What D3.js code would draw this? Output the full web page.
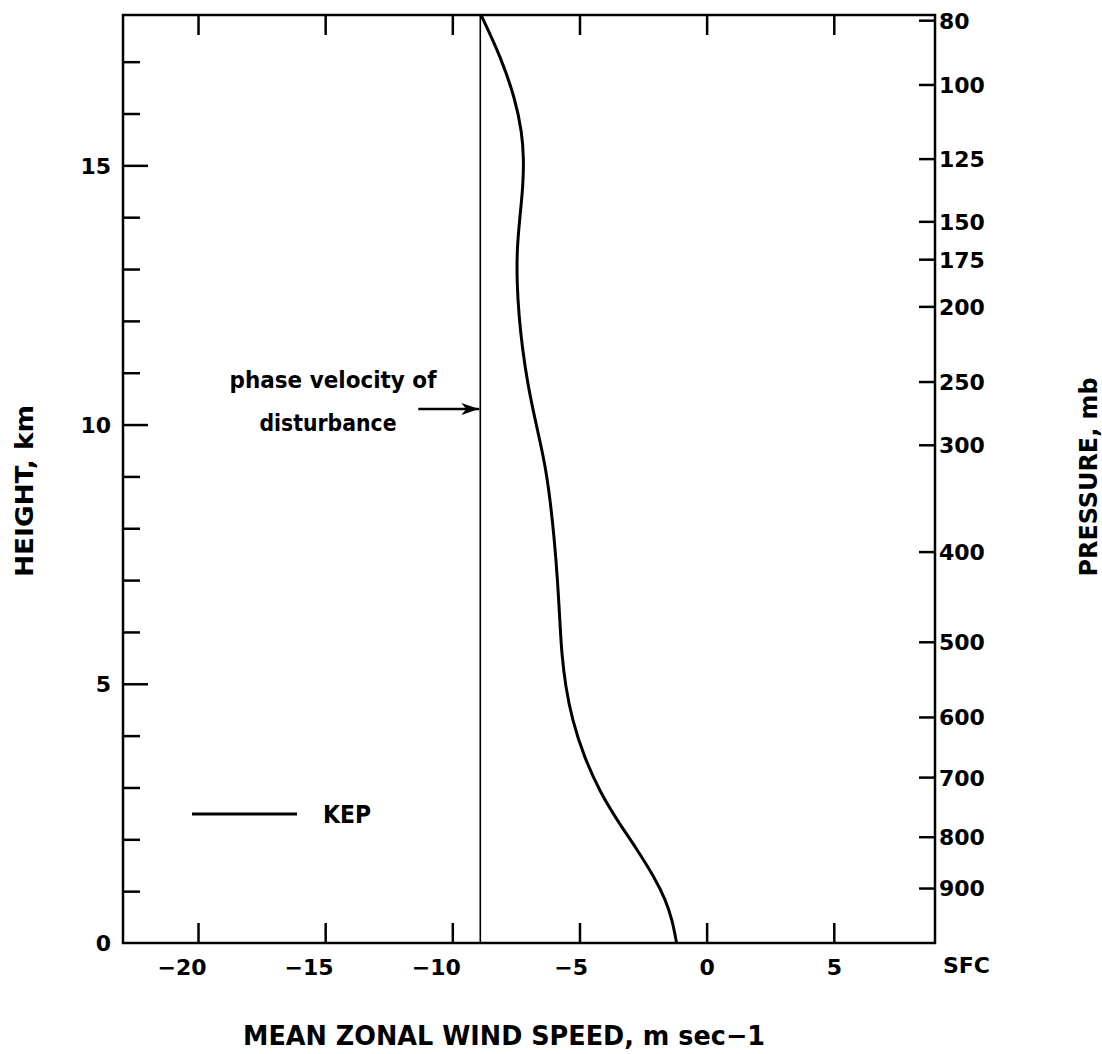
<!DOCTYPE html>
<html>
<head>
<meta charset="utf-8">
<script src="https://cdn.jsdelivr.net/npm/d3@7"></script>
<style>
  body { margin: 0; background: #fff; }
  text { font-family: "DejaVu Sans", sans-serif; font-weight: bold; fill: #000; }
</style>
</head>
<body>
<div class="container"></div>
<script>
// wind profile (surface upward)
const heightKm = [0, 0.44, 0.83, 1.28, 1.8, 2.37, 2.89, 3.6, 4.31, 4.95, 5.59, 6.11, 7.07, 7.84, 8.49,
                  9.13, 9.65, 10.22, 10.8, 11.45, 12.09, 12.74, 13.38, 14.02, 14.6, 15.12, 15.63, 16.27, 17.11, 17.9]
const windSpeed = [-1.18, -1.35, -1.61, -2.07, -2.73, -3.52, -4.17, -4.83, -5.29, -5.55, -5.7, -5.76, -5.87, -6.0, -6.14,
                   -6.32, -6.54, -6.8, -7.04, -7.24, -7.38, -7.46, -7.46, -7.34, -7.22, -7.19, -7.26, -7.52, -8.11, -8.87]

const phaseVelocity = -8.9

const xTicks = [-20, -15, -10, -5, 0, 5]
const heightTicks = [0, 5, 10, 15]
const heightMinor = [1, 2, 3, 4, 6, 7, 8, 9, 11, 12, 13, 14, 16, 17]

// pressure scale on the right, placed at the heights where the figure puts them
const pressureLabels = ["80", "100", "125", "150", "175", "200", "250", "300", "400", "500", "600", "700", "800", "900"]
const pressureHeights = [17.8, 16.56, 15.13, 13.92, 13.19, 12.28, 10.83, 9.61, 7.55, 5.81, 4.36, 3.2, 2.05, 1.06]

const width = 1102
const height = 1054

const x = d3.scaleLinear().domain([-22.95, 8.98]).range([123, 935])
const y = d3.scaleLinear().domain([0, 17.9]).range([943, 15])

const svg = d3.select(".container").append("svg")
    .attr("width", width)
    .attr("height", height)

// minor height ticks
svg.append("g")
    .attr("transform", `translate(${x.range()[0]},0)`)
    .call(d3.axisLeft(y).tickValues(heightMinor).tickSize(-17).tickFormat(""))

const left = svg.append("g")
    .attr("transform", `translate(${x.range()[0]},0)`)
    .call(d3.axisLeft(y).tickValues(heightTicks.slice(1)).tickSize(-25).tickPadding(12))
left.selectAll("text").attr("font-size", 22).attr("dy", "0.36em")

// the 0 label sits on the bottom edge, no tick of its own
svg.append("text")
    .attr("x", x.range()[0] - 12)
    .attr("y", y(0))
    .attr("dy", "0.36em")
    .attr("text-anchor", "end")
    .attr("font-size", 22)
    .text(heightTicks[0])

svg.append("g")
    .attr("transform", `translate(0,${y.range()[1]})`)
    .call(d3.axisTop(x).tickValues(xTicks).tickSize(-20).tickFormat(""))

const bottom = svg.append("g")
    .attr("transform", `translate(0,${y.range()[0]})`)
    .call(d3.axisBottom(x).tickValues(xTicks).tickSize(-20).tickPadding(14)
        .tickFormat(d => d < 0 ? "\u2212" + Math.abs(d) : d))
bottom.selectAll("text")
    .attr("font-size", 22)
    .attr("dy", "0.8em")
    .attr("text-anchor", d => d < 0 ? "end" : "middle")
    .attr("x", d => d < 0 ? 8 : 0)

const right = svg.append("g")
    .attr("transform", `translate(${x.range()[1]},0)`)
    .call(d3.axisRight(y).tickValues(pressureHeights).tickSize(-16).tickPadding(4)
        .tickFormat((d, i) => pressureLabels[i]))
right.selectAll("text").attr("font-size", 22).attr("dy", "0.36em")

svg.selectAll(".domain").remove()
svg.selectAll(".tick line").attr("stroke", "#000").attr("stroke-width", 2.5)

// frame
svg.append("rect")
    .attr("x", x.range()[0])
    .attr("y", y.range()[1])
    .attr("width", x.range()[1] - x.range()[0])
    .attr("height", y.range()[0] - y.range()[1])
    .attr("fill", "none")
    .attr("stroke", "#000")
    .attr("stroke-width", 2.5)

svg.append("text")
    .attr("x", x.range()[1] + 8)
    .attr("y", 973)
    .attr("font-size", 22)
    .text("SFC")

// phase velocity line
svg.append("line")
    .attr("x1", x(phaseVelocity)).attr("x2", x(phaseVelocity))
    .attr("y1", y(0)).attr("y2", y(17.9))
    .attr("stroke", "#000")
    .attr("stroke-width", 1.6)

svg.append("defs").append("marker")
    .attr("id", "head")
    .attr("viewBox", "0 0 18 14")
    .attr("refX", 18).attr("refY", 7)
    .attr("markerWidth", 18).attr("markerHeight", 14)
    .attr("markerUnits", "userSpaceOnUse")
    .attr("orient", "auto")
    .append("path")
    .attr("d", "M0,1 L18,7 L0,13 L5,7 Z")

svg.append("line")
    .attr("x1", x(phaseVelocity) - 62).attr("x2", x(phaseVelocity) - 1)
    .attr("y1", y(10.3)).attr("y2", y(10.3))
    .attr("stroke", "#000")
    .attr("stroke-width", 2.5)
    .attr("marker-end", "url(#head)")

svg.append("text")
    .attr("x", 333).attr("y", 388)
    .attr("text-anchor", "middle")
    .attr("font-size", 23)
    .attr("textLength", 207).attr("lengthAdjust", "spacingAndGlyphs")
    .text("phase velocity of")

svg.append("text")
    .attr("x", 328).attr("y", 431)
    .attr("text-anchor", "middle")
    .attr("font-size", 23)
    .attr("textLength", 137).attr("lengthAdjust", "spacingAndGlyphs")
    .text("disturbance")

// wind profile
const line = d3.line()
    .x((d, i) => x(windSpeed[i]))
    .y(d => y(d))
    .curve(d3.curveBasis)

svg.append("path")
    .datum(heightKm)
    .attr("d", line)
    .attr("fill", "none")
    .attr("stroke", "#000")
    .attr("stroke-width", 3)

// legend
svg.append("line")
    .attr("x1", 192).attr("x2", 297)
    .attr("y1", 814).attr("y2", 814)
    .attr("stroke", "#000")
    .attr("stroke-width", 3)

svg.append("text")
    .attr("x", 323).attr("y", 823)
    .attr("font-size", 25)
    .attr("textLength", 48).attr("lengthAdjust", "spacingAndGlyphs")
    .text("KEP")

// axis titles
svg.append("text")
    .attr("x", 504).attr("y", 1045)
    .attr("text-anchor", "middle")
    .attr("font-size", 27)
    .attr("textLength", 522).attr("lengthAdjust", "spacingAndGlyphs")
    .text("MEAN ZONAL WIND SPEED, m sec\u22121")

svg.append("text")
    .attr("transform", "translate(33,491) rotate(-90)")
    .attr("text-anchor", "middle")
    .attr("font-size", 24)
    .attr("textLength", 172).attr("lengthAdjust", "spacingAndGlyphs")
    .text("HEIGHT, km")

svg.append("text")
    .attr("transform", "translate(1097,477) rotate(-90)")
    .attr("text-anchor", "middle")
    .attr("font-size", 24)
    .attr("textLength", 199).attr("lengthAdjust", "spacingAndGlyphs")
    .text("PRESSURE, mb")
</script>
</body>
</html>
